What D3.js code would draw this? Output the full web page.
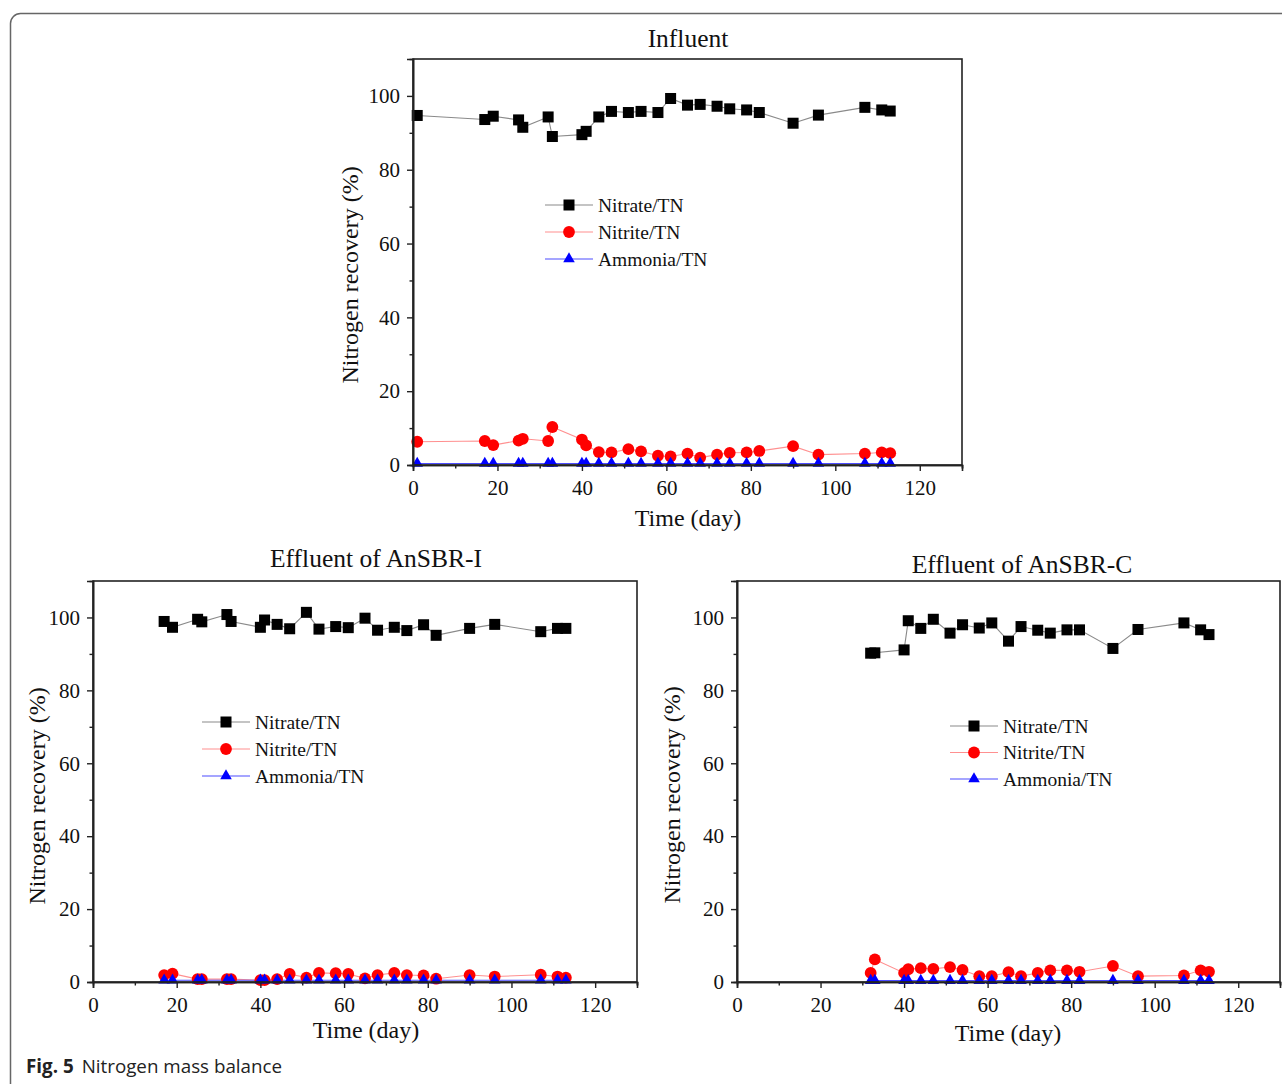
<!DOCTYPE html>
<html>
<head>
<meta charset="utf-8">
<script src="https://cdn.jsdelivr.net/npm/d3@7"></script>
<style>
  html, body { margin: 0; padding: 0; background: #fff; }
  svg { display: block; }
</style>
</head>
<body>
<svg id="chart" width="1282" height="1084"></svg>
<script>
// ---------------- DATA ----------------
const seriesNames = ["Nitrate/TN", "Nitrite/TN", "Ammonia/TN"];
const xMajorTicks = [0, 20, 40, 60, 80, 100, 120];
const xMinorTicks = [10, 30, 50, 70, 90, 110, 130];
const yMajorTicks = [0, 20, 40, 60, 80, 100];
const yMinorTicks = [10, 30, 50, 70, 90];

const influentDays     = [1, 17, 19, 25, 26, 32, 33, 40, 41, 44, 47, 51, 54, 58, 61, 65, 68, 72, 75, 79, 82, 90, 96, 107, 111, 113];
const influentNitrate  = [94.7, 93.6, 94.5, 93.5, 91.5, 94.3, 89.0, 89.5, 90.4, 94.3, 95.8, 95.5, 95.8, 95.5, 99.3, 97.5, 97.7, 97.2, 96.5, 96.2, 95.5, 92.6, 94.8, 96.9, 96.2, 95.9];
const influentNitrite  = [6.3, 6.5, 5.4, 6.6, 7.1, 6.5, 10.3, 6.9, 5.3, 3.5, 3.4, 4.3, 3.7, 2.5, 2.3, 3.1, 2.0, 2.8, 3.3, 3.4, 3.8, 5.1, 2.8, 3.1, 3.4, 3.2];
const influentAmmonia  = [0.4, 0.4, 0.4, 0.4, 0.4, 0.4, 0.4, 0.4, 0.4, 0.4, 0.4, 0.4, 0.4, 0.4, 0.4, 0.4, 0.4, 0.4, 0.4, 0.4, 0.4, 0.4, 0.4, 0.4, 0.4, 0.4];

const effIDays    = [17, 19, 25, 26, 32, 33, 40, 41, 44, 47, 51, 54, 58, 61, 65, 68, 72, 75, 79, 82, 90, 96, 107, 111, 113];
const effINitrate = [98.9, 97.3, 99.5, 98.8, 100.8, 98.9, 97.3, 99.3, 98.1, 96.9, 101.4, 96.8, 97.5, 97.2, 99.8, 96.5, 97.3, 96.4, 98.0, 95.1, 97.0, 98.1, 96.1, 97.0, 97.0];
const effINitrite = [1.9, 2.3, 0.8, 0.8, 0.8, 0.8, 0.5, 0.5, 0.8, 2.2, 1.2, 2.5, 2.4, 2.2, 1.0, 1.9, 2.5, 1.9, 1.8, 0.9, 1.9, 1.5, 2.0, 1.5, 1.2];
const effIAmmonia = [0.5, 0.5, 0.5, 0.5, 0.5, 0.5, 0.5, 0.5, 0.5, 0.5, 0.5, 0.5, 0.5, 0.5, 0.5, 0.5, 0.5, 0.5, 0.5, 0.5, 0.5, 0.5, 0.5, 0.5, 0.5];

const effCDays    = [32, 33, 40, 41, 44, 47, 51, 54, 58, 61, 65, 68, 72, 75, 79, 82, 90, 96, 107, 111, 113];
const effCNitrate = [90.2, 90.3, 91.1, 99.1, 97.0, 99.5, 95.7, 98.0, 97.1, 98.5, 93.5, 97.5, 96.5, 95.7, 96.6, 96.6, 91.5, 96.7, 98.5, 96.6, 95.3];
const effCNitrite = [2.5, 6.2, 2.5, 3.5, 3.8, 3.6, 4.1, 3.3, 1.6, 1.6, 2.7, 1.6, 2.5, 3.2, 3.2, 2.8, 4.4, 1.6, 1.8, 3.2, 2.8];
const effCAmmonia = [0.4, 0.4, 0.4, 0.4, 0.4, 0.4, 0.4, 0.4, 0.4, 0.4, 0.4, 0.4, 0.4, 0.4, 0.4, 0.4, 0.4, 0.4, 0.4, 0.4, 0.4];

// ---------------- DRAW ----------------
const svg = d3.select("#chart");
const SERIF = "'Liberation Serif', 'Times New Roman', serif";

svg.append("rect").attr("x", 0).attr("y", 0).attr("width", 1282).attr("height", 1084).attr("fill", "#fff");
// outer frame (rounded, runs off right/bottom)
svg.append("rect")
  .attr("x", 10.5).attr("y", 13.5).attr("width", 1320).attr("height", 1120)
  .attr("rx", 10).attr("fill", "none").attr("stroke", "#666").attr("stroke-width", 1.5);

const styles = [
  { line: "#8a8a8a", fill: "#000000", marker: "square" },
  { line: "#ff9090", fill: "#ff0000", marker: "circle" },
  { line: "#4d4dff", fill: "#0000ff", marker: "triangle" }
];

function drawMarker(g, type, x, y, color) {
  if (type === "square") {
    g.append("rect").attr("x", x - 5.5).attr("y", y - 5.5).attr("width", 11).attr("height", 11).attr("fill", color);
  } else if (type === "circle") {
    g.append("circle").attr("cx", x).attr("cy", y).attr("r", 5.9).attr("fill", color);
  } else {
    g.append("path").attr("d", d3.symbol().type(d3.symbolTriangle).size(58)()).attr("transform", `translate(${x},${y})`).attr("fill", color);
  }
}

function panel(cfg) {
  const x = d3.scaleLinear().domain([0, 130]).range([cfg.x0, cfg.x1]);
  const y = d3.scaleLinear().domain([0, 110]).range([cfg.y0, cfg.y1]);
  const g = svg.append("g");

  // series
  const sets = [cfg.nitrate, cfg.nitrite, cfg.ammonia];
  sets.forEach((vals, i) => {
    const pts = cfg.days.map((d, j) => [d, vals[j]]);
    g.append("path").datum(pts)
      .attr("fill", "none").attr("stroke", styles[i].line).attr("stroke-width", 1.1)
      .attr("d", d3.line().x(p => x(p[0])).y(p => y(p[1])));
  });
  sets.forEach((vals, i) => {
    cfg.days.forEach((d, j) => drawMarker(g, styles[i].marker, x(d), y(vals[j]), styles[i].fill));
  });

  // box
  g.append("rect").attr("x", cfg.x0).attr("y", cfg.y1).attr("width", cfg.x1 - cfg.x0).attr("height", cfg.y0 - cfg.y1)
    .attr("fill", "none").attr("stroke", "#222").attr("stroke-width", 1.6);

  // axes
  g.append("g").attr("transform", `translate(0,${cfg.y0})`)
    .call(d3.axisBottom(x).tickValues(xMajorTicks).tickSize(6).tickPadding(9).tickFormat(d3.format("d")));
  g.append("g").attr("transform", `translate(0,${cfg.y0})`)
    .call(d3.axisBottom(x).tickValues(xMinorTicks).tickSize(3.5).tickFormat(""));
  g.append("g").attr("transform", `translate(${cfg.x0},0)`)
    .call(d3.axisLeft(y).tickValues(yMajorTicks).tickSize(6).tickPadding(7).tickFormat(d3.format("d")));
  g.append("g").attr("transform", `translate(${cfg.x0},0)`)
    .call(d3.axisLeft(y).tickValues(yMinorTicks).tickSize(3.5).tickFormat(""));
  g.selectAll(".domain").attr("stroke", "#222").attr("stroke-width", 1.6);
  g.selectAll(".tick line").attr("stroke", "#222").attr("stroke-width", 1.4);
  g.selectAll(".tick text").attr("font-family", SERIF).attr("font-size", 21).attr("fill", "#111");

  // titles
  svg.append("text").attr("x", cfg.titleX).attr("y", cfg.titleY).attr("text-anchor", "middle")
    .attr("font-family", SERIF).attr("font-size", 25.5).attr("fill", "#111").text(cfg.title);
  svg.append("text").attr("x", cfg.xTitleX).attr("y", cfg.xTitleY).attr("text-anchor", "middle")
    .attr("font-family", SERIF).attr("font-size", 24).attr("fill", "#111").text("Time (day)");
  svg.append("text").attr("transform", `translate(${cfg.yTitleX},${cfg.yTitleY}) rotate(-90)`).attr("text-anchor", "middle")
    .attr("font-family", SERIF).attr("font-size", 24).attr("fill", "#111").text("Nitrogen recovery (%)");

  // legend
  seriesNames.forEach((name, i) => {
    const ly = cfg.legY + i * cfg.legGap;
    g.append("line").attr("x1", cfg.legX).attr("x2", cfg.legX + 48).attr("y1", ly).attr("y2", ly)
      .attr("stroke", styles[i].line).attr("stroke-width", 1.1);
    drawMarker(g, styles[i].marker, cfg.legX + 24, ly, styles[i].fill);
    g.append("text").attr("x", cfg.legX + 53).attr("y", ly + 6.5)
      .attr("font-family", SERIF).attr("font-size", 19.5).attr("fill", "#111").text(name);
  });
}

panel({
  title: "Influent", titleX: 688, titleY: 47,
  x0: 413, x1: 962, y0: 465, y1: 59,
  xTitleX: 688, xTitleY: 526, yTitleX: 358, yTitleY: 275,
  legX: 545, legY: 205, legGap: 27,
  days: influentDays, nitrate: influentNitrate, nitrite: influentNitrite, ammonia: influentAmmonia
});
panel({
  title: "Effluent of AnSBR-I", titleX: 376, titleY: 567,
  x0: 93, x1: 637, y0: 982, y1: 581,
  xTitleX: 366, xTitleY: 1038, yTitleX: 45, yTitleY: 796,
  legX: 202, legY: 722, legGap: 27,
  days: effIDays, nitrate: effINitrate, nitrite: effINitrite, ammonia: effIAmmonia
});
panel({
  title: "Effluent of AnSBR-C", titleX: 1022, titleY: 573,
  x0: 737, x1: 1280, y0: 982, y1: 581,
  xTitleX: 1008, xTitleY: 1041, yTitleX: 680, yTitleY: 795,
  legX: 950, legY: 726, legGap: 26.5,
  days: effCDays, nitrate: effCNitrate, nitrite: effCNitrite, ammonia: effCAmmonia
});

// caption
const cap = svg.append("text").attr("x", 26).attr("y", 1073)
  .attr("font-family", "'Open Sans', 'Noto Sans', sans-serif").attr("font-size", 18.8).attr("fill", "#222");
cap.append("tspan").attr("font-weight", "bold").text("Fig. 5");
cap.append("tspan").attr("dx", 8).text("Nitrogen mass balance");
</script>
</body>
</html>
